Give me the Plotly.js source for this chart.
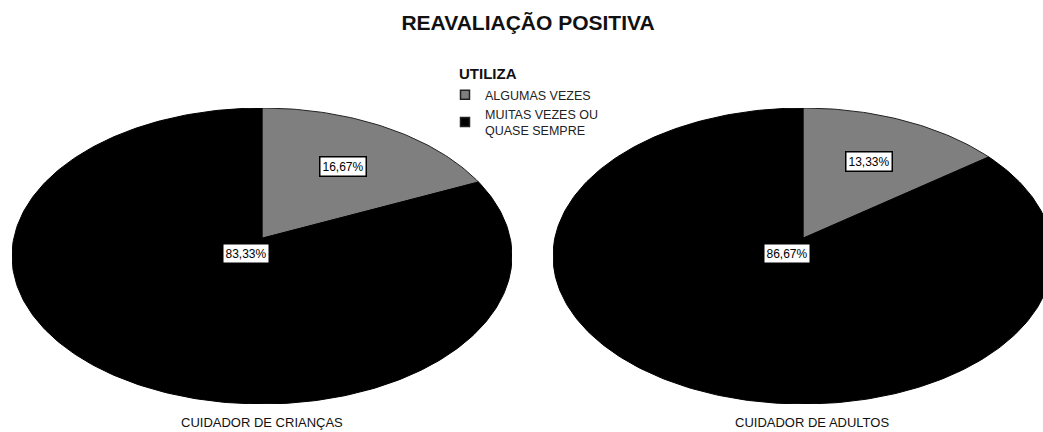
<!DOCTYPE html>
<html>
<head>
<meta charset="utf-8">
<script src="https://cdn.plot.ly/plotly-3.0.1.min.js"></script>
<style>html,body{margin:0;padding:0;background:#fff;}#chart{width:1043px;height:432px;}</style>
</head>
<body>
<div id="chart"></div>
<script>
// ---- data ----
const chartTitle = "REAVALIAÇÃO POSITIVA";
const legendTitle = "UTILIZA";
const categories = ["ALGUMAS VEZES", "MUITAS VEZES OU<br>QUASE SEMPRE"];
const groups = ["CUIDADOR DE CRIANÇAS", "CUIDADOR DE ADULTOS"];
const criancasValues = [16.67, 83.33];
const adultosValues = [13.33, 86.67];

// ---- style ----
const colors = ["#7f7f7f", "#000000"];
const lineColors = ["#222222", "#000000"];
const FONT = "Liberation Sans, Arial, sans-serif";
const vertexY = 0.12;  // slice apex is slightly above the ellipse centre

function fmt(v) { return v.toFixed(2).replace(".", ",") + "%"; }

const traces = [];
const annotations = [];
const seriesList = [criancasValues, adultosValues];
const W = 1043, H = 432;

seriesList.forEach((vals, gi) => {
  const xa = gi === 0 ? "x" : "x2";
  const ya = gi === 0 ? "y" : "y2";
  const total = vals.reduce((a, b) => a + b, 0);
  let start = 0;
  vals.forEach((v, si) => {
    const a0 = start / total * 2 * Math.PI;
    const a1 = (start + v) / total * 2 * Math.PI;
    const xs = [0], ys = [vertexY];
    const n = Math.max(8, Math.ceil((a1 - a0) / (Math.PI / 180)));
    for (let k = 0; k <= n; k++) {
      const t = a0 + (a1 - a0) * k / n;
      xs.push(Math.sin(t)); ys.push(Math.cos(t));
    }
    xs.push(0); ys.push(vertexY);
    traces.push({
      type: "scatter", mode: "lines", x: xs, y: ys, xaxis: xa, yaxis: ya,
      fill: "toself", fillcolor: colors[si],
      line: { color: lineColors[si], width: 1 },
      showlegend: false, hoverinfo: "skip"
    });
    // label
    let lx, ly;
    const frac = v / total;
    if (frac < 0.5) {
      const mid = (a0 + a1) / 2;
      lx = 0.65 * Math.sin(mid); ly = 0.68 * Math.cos(mid) * 1.03;
    } else {
      lx = -0.065; ly = 0.02;
    }
    annotations.push({
      xref: xa, yref: ya, x: lx, y: ly, text: fmt(v), showarrow: false,
      font: { family: FONT, size: 12, color: "#000" },
      bgcolor: "#ffffff", bordercolor: "#000000", borderwidth: 1.5, borderpad: 2
    });
    start += v;
  });
  annotations.push({
    xref: xa, yref: "paper", x: gi === 0 ? 0 : 0.035, y: 1 - 422 / H, yanchor: "middle",
    text: groups[gi], showarrow: false,
    font: { family: FONT, size: 13, color: "#111" }
  });
});

// legend title
annotations.push({
  xref: "paper", yref: "paper", x: 457 / W, y: 1 - 73 / H, xanchor: "left", yanchor: "middle",
  text: "<b>" + legendTitle + "</b>", showarrow: false,
  font: { family: FONT, size: 15, color: "#111" }
});

// legend entries
categories.forEach((c, i) => {
  traces.push({
    type: "scatter", mode: "markers", x: [null], y: [null], name: c,
    marker: { symbol: "square", size: 9, color: colors[i], line: { color: "#222", width: 1.5 } },
    hoverinfo: "skip"
  });
});

const layout = {
  width: W, height: H,
  margin: { l: 0, r: 0, t: 0, b: 0 },
  paper_bgcolor: "#fff", plot_bgcolor: "rgba(0,0,0,0)",
  hovermode: false,
  title: {
    text: "<b>" + chartTitle + "</b>", x: 528 / W, xanchor: "center",
    y: 1 - 23 / H, yanchor: "middle", yref: "container",
    font: { family: FONT, size: 21, color: "#111" }
  },
  xaxis: { domain: [12 / W, 512 / W], range: [-1, 1], visible: false, fixedrange: true },
  yaxis: { domain: [28 / H, 324 / H], range: [-1, 1], visible: false, fixedrange: true },
  xaxis2: { domain: [553 / W, 1], range: [-1, 0.96], visible: false, fixedrange: true, anchor: "y2" },
  yaxis2: { domain: [28 / H, 324 / H], range: [-1, 1], visible: false, fixedrange: true, anchor: "x2" },
  showlegend: true,
  legend: {
    x: 445 / W, y: 1 - 80 / H, xanchor: "left", yanchor: "top",
    bgcolor: "rgba(255,255,255,0)",
    font: { family: FONT, size: 12.5, color: "#222" },
    tracegroupgap: 0, itemwidth: 30
  },
  annotations: annotations
};

Plotly.newPlot("chart", traces, layout, { displayModeBar: false, staticPlot: true });
</script>
</body>
</html>
